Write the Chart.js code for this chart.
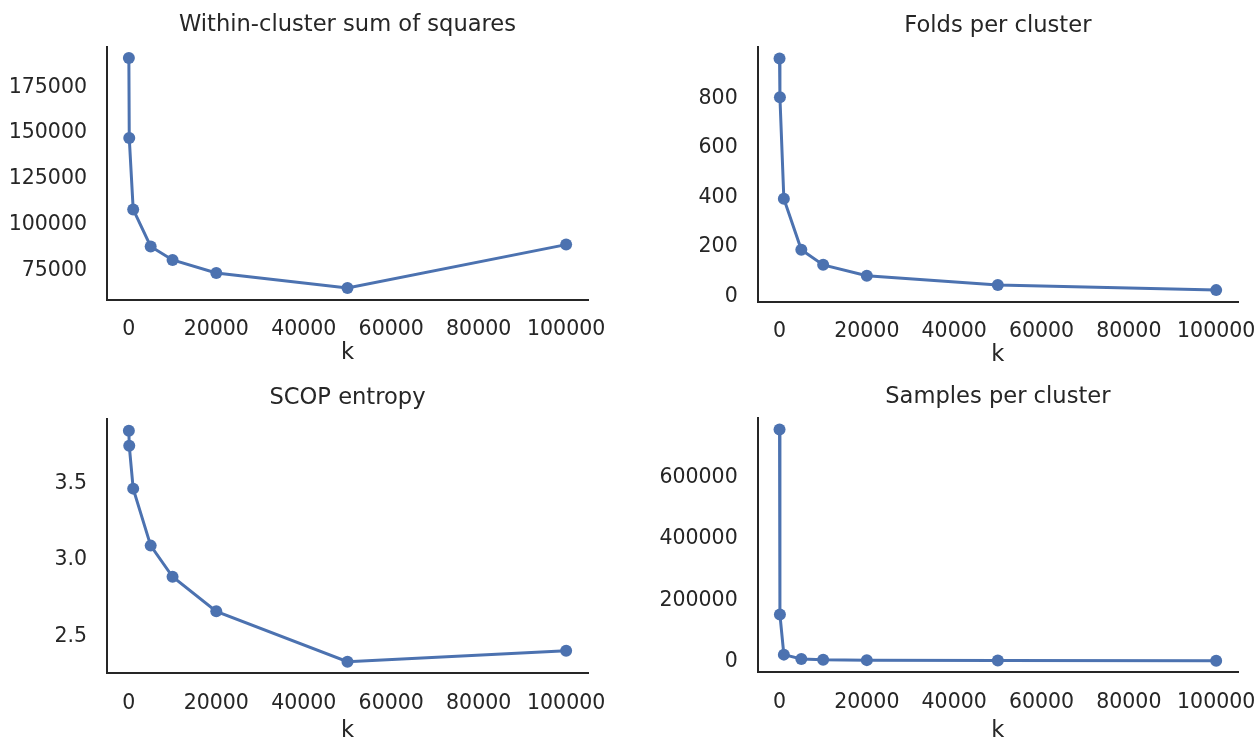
<!DOCTYPE html>
<html>
<head>
<meta charset="utf-8">
<script src="https://cdn.jsdelivr.net/npm/chart.js@4.4.0/dist/chart.umd.min.js"></script>
<title>k sweep</title>
<style>
    body { margin:0; background:#fff; overflow:hidden; width:1259px; height:740px; position:relative; }
    .panel { position:absolute; }
</style>
</head>
<body>
<div class="panel" style="left:0px; top:0px"><canvas id="c_wcss" width="630" height="370"></canvas></div>
<div class="panel" style="left:630px; top:0px"><canvas id="c_folds" width="629" height="370"></canvas></div>
<div class="panel" style="left:0px; top:370px"><canvas id="c_entropy" width="630" height="400"></canvas></div>
<div class="panel" style="left:630px; top:370px"><canvas id="c_samples" width="629" height="400"></canvas></div>

<script type="text/javascript">
var k = [10, 100, 1000, 5000, 10000, 20000, 50000, 100000];
var wcss = [191000, 147300, 108300, 88100, 80700, 73600, 65400, 89100];
var folds = [961, 805, 395, 189, 128, 84, 47, 26];
var entropy = [3.845, 3.747, 3.467, 3.094, 2.890, 2.664, 2.334, 2.406];
var samples = [758000, 153000, 22000, 8000, 5000, 4000, 2500, 2000];

var kTicks = [0, 20000, 40000, 60000, 80000, 100000];
var wcssTicks = [75000, 100000, 125000, 150000, 175000];
var foldsTicks = [0, 200, 400, 600, 800];
var entropyTicks = [2.5, 3.0, 3.5];
var samplesTicks = [0, 200000, 400000, 600000];

var ink = "#262626";
var blue = "#4c72b0";
var family = "'DejaVu Sans', sans-serif";

// matplotlib style 5% margins
function margins(arr){
    var lo = Math.min.apply(null, arr), hi = Math.max.apply(null, arr);
    var m = (hi - lo) * 0.05;
    return [lo - m, hi + m];
}

function makePanel(id, title, values, yTicks, decimals, g){
    var xr = margins(k), yr = margins(values);
    var pts = k.map(function(v, i){ return {x: v, y: values[i]}; });
    return new Chart(document.getElementById(id), {
        type: "line",
        data: {
            datasets: [{
                data: pts,
                borderColor: blue,
                backgroundColor: blue,
                borderWidth: 3,
                pointRadius: 6,
                pointBorderWidth: 0,
                pointHoverRadius: 6,
                tension: 0,
                clip: false
            }]
        },
        options: {
            responsive: false,
            animation: false,
            layout: {padding: {left: 0, right: g.right, top: 0, bottom: 0}},
            plugins: {
                legend: {display: false},
                tooltip: {enabled: false},
                title: {
                    display: true,
                    text: title,
                    color: ink,
                    fullSize: false,
                    font: {family: family, size: 22.6, weight: "normal"},
                    padding: {top: g.tTop, bottom: g.tBottom}
                }
            },
            scales: {
                x: {
                    type: "linear",
                    min: xr[0],
                    max: xr[1],
                    afterBuildTicks: function(s){ s.ticks = kTicks.map(function(v){ return {value: v}; }); },
                    afterFit: function(s){ s.height = g.xh; s.paddingLeft = 0; s.paddingRight = 0; },
                    grid: {display: false, drawTicks: false},
                    border: {display: true, color: ink, width: 2},
                    ticks: {
                        color: ink, padding: 18, maxRotation: 0, autoSkip: false,
                        font: {family: family, size: 20.5},
                        callback: function(v){ return String(v); }
                    },
                    title: {
                        display: true, text: "k", color: ink,
                        font: {family: family, size: 22.6},
                        padding: {top: 0, bottom: g.kPad}
                    }
                },
                y: {
                    type: "linear",
                    min: yr[0],
                    max: yr[1],
                    afterBuildTicks: function(s){ s.ticks = yTicks.map(function(v){ return {value: v}; }); },
                    afterFit: function(s){ s.width = g.yw; s.paddingTop = 0; s.paddingBottom = 0; },
                    grid: {display: false, drawTicks: false},
                    border: {display: true, color: ink, width: 2},
                    ticks: {
                        color: ink, padding: 20, autoSkip: false,
                        font: {family: family, size: 20.5},
                        callback: function(v){ return v.toFixed(decimals); }
                    }
                }
            }
        }
    });
}

makePanel("c_wcss", "Within-cluster sum of squares", wcss, wcssTicks, 0,
    {yw: 107, right: 42, tTop: 11.5, tBottom: 7.9, xh: 70.5, kPad: 3.6});
makePanel("c_folds", "Folds per cluster", folds, foldsTicks, 0,
    {yw: 127.7, right: 21, tTop: 12.5, tBottom: 7.4, xh: 68.3, kPad: 1.4});
makePanel("c_entropy", "SCOP entropy", entropy, entropyTicks, 1,
    {yw: 107, right: 42, tTop: 14.5, tBottom: 7.7, xh: 96.7, kPad: 25.4});
makePanel("c_samples", "Samples per cluster", samples, samplesTicks, 0,
    {yw: 127.7, right: 21, tTop: 13.5, tBottom: 7.4, xh: 97.7, kPad: 25.4});
</script>
</body>
</html>
